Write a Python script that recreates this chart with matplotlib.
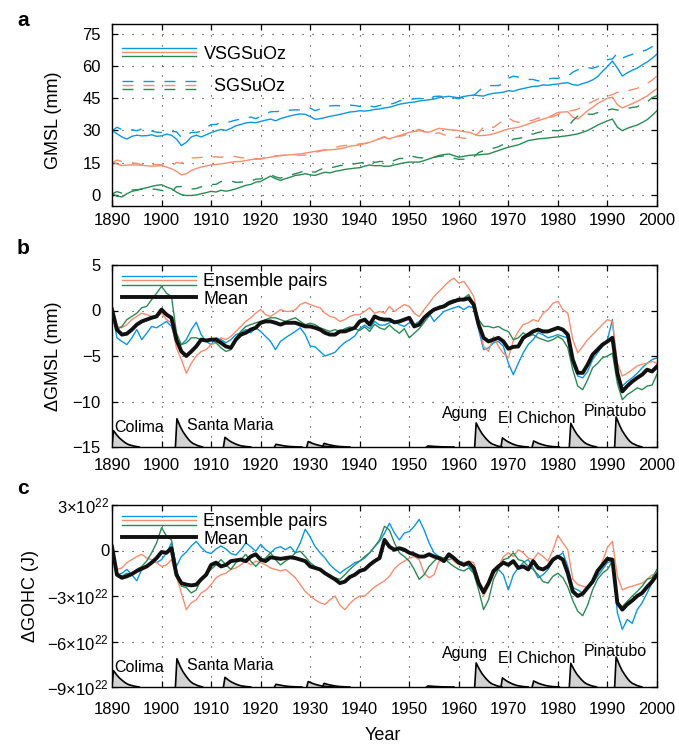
import numpy as np
import matplotlib
matplotlib.use("Agg")
import matplotlib.pyplot as plt
from matplotlib.lines import Line2D
from matplotlib.legend_handler import HandlerBase

plt.rcParams["font.family"] = ["Liberation Sans", "DejaVu Sans"]
plt.rcParams["mathtext.fontset"] = "custom"
plt.rcParams["mathtext.rm"] = "Liberation Sans"
plt.rcParams["mathtext.it"] = "Liberation Sans:italic"

YEARS = np.arange(1890, 2001)

# --- panel a: GMSL (mm), VSGSuOz runs (solid) ---
A_BLUE = [29.9, 28.5, 27.0, 26.0, 27.3, 27.8, 27.5, 27.6, 28.0, 27.3,
          27.5, 28.3, 27.8, 26.0, 23.0, 24.5, 27.0, 27.8, 27.0, 28.0,
          29.0, 29.8, 30.5, 30.0, 31.0, 32.2, 32.8, 33.5, 33.8, 33.6,
          34.2, 34.8, 35.3, 34.5, 35.5, 36.2, 36.8, 37.3, 37.7, 37.5,
          36.5, 35.2, 35.5, 36.0, 36.6, 37.0, 37.5, 38.0, 38.6, 38.8,
          39.2, 39.0, 39.3, 39.8, 40.0, 40.5, 40.8, 41.5, 42.2, 42.6,
          43.0, 43.2, 43.7, 44.0, 44.3, 44.6, 45.3, 45.6, 45.9, 45.5,
          45.2, 45.8, 46.2, 46.5, 46.2, 46.0, 46.8, 47.3, 47.5, 47.8,
          48.5, 48.2, 49.0, 49.5, 50.0, 50.5, 50.6, 51.2, 51.0, 51.4,
          51.6, 52.0, 52.2, 51.3, 51.0, 51.8, 52.5, 53.5, 55.0, 57.5,
          59.7, 62.3, 59.0, 55.3, 56.8, 58.0, 59.0, 60.5, 61.8, 63.5,
          65.5]
A_SALMON = [15.3, 14.5, 13.7, 13.9, 14.0, 14.0, 13.8, 13.6, 13.4, 13.5,
            13.7, 13.0, 12.2, 11.0, 9.4, 9.9, 11.4, 12.3, 13.0, 13.5,
            14.0, 14.2, 14.5, 14.8, 15.3, 15.5, 15.6, 16.0, 16.5, 16.6,
            16.8, 17.2, 17.6, 18.0, 18.4, 18.5, 18.7, 18.9, 19.1, 19.5,
            19.9, 20.3, 20.7, 20.8, 21.0, 21.2, 21.5, 22.0, 22.7, 23.0,
            23.3, 23.9, 24.5, 25.3, 26.1, 26.9, 26.1, 26.9, 27.6, 28.4,
            29.2, 29.5, 29.9, 29.5, 29.2, 30.1, 31.0, 30.7, 30.4, 30.2,
            29.9, 29.5, 29.2, 28.4, 27.6, 27.7, 27.9, 28.5, 29.2, 30.0,
            30.7, 31.1, 31.5, 32.2, 33.0, 33.8, 34.6, 35.3, 36.1, 37.2,
            38.4, 38.6, 38.7, 36.1, 35.3, 37.2, 39.2, 40.8, 42.5, 43.8,
            45.0, 45.5, 42.0, 40.5, 41.5, 42.5, 43.5, 44.8, 46.0, 47.8,
            49.5]
A_GREEN = [0.6, -0.5, -0.9, 0.6, 1.7, 2.2, 2.9, 3.4, 4.0, 4.5,
           4.8, 3.7, 2.9, 1.4, 0.2, -0.2, -0.2, 0.0, 0.6, 1.1,
           1.7, 1.4, 2.2, 1.8, 2.2, 2.9, 3.7, 4.5, 4.9, 6.0,
           6.3, 7.6, 8.8, 7.6, 6.8, 7.6, 8.3, 9.1, 9.4, 9.9,
           9.4, 9.1, 9.9, 10.6, 10.3, 11.0, 11.4, 11.9, 12.2, 12.5,
           12.7, 13.4, 14.0, 13.6, 13.7, 13.4, 13.4, 14.0, 14.5, 15.0,
           15.3, 15.3, 15.3, 16.0, 16.8, 17.6, 18.4, 18.8, 19.1, 18.3,
           17.6, 18.0, 18.4, 18.6, 18.7, 18.9, 19.1, 19.9, 20.7, 21.5,
           22.2, 22.8, 23.3, 24.3, 25.3, 25.7, 26.1, 26.3, 26.5, 26.8,
           27.0, 27.3, 27.6, 28.0, 28.4, 29.2, 30.0, 31.2, 32.5, 33.5,
           34.5, 35.3, 31.5, 29.9, 31.0, 31.8, 32.5, 33.7, 35.0, 37.0,
           39.2]

# --- panel b: delta GMSL (mm) = VSGSuOz - SGSuOz for each pair ---
B_BLUE = [0.1, -3.0, -3.4, -3.75, -3.0, -2.1, -3.2, -2.5, -1.75, -1.9,
          -1.55, -1.2, -1.75, -3.4, -3.75, -3.2, -2.1, -1.3, -2.65, -3.4,
          -3.75, -3.0, -3.2, -3.55, -3.2, -2.65, -2.45, -2.1, -2.45, -1.9,
          -2.3, -2.85, -3.4, -4.3, -3.4, -3.0, -2.65, -2.3, -1.9, -2.65,
          -3.9, -4.0, -4.5, -5.0, -4.8, -4.6, -4.0, -3.5, -3.2, -2.8,
          -2.0, -1.6, -2.0, -1.2, -1.6, -1.6, -1.35, -1.2, -1.55, -1.75,
          -1.35, -1.55, -1.2, -0.65, -0.3, -1.2, -0.65, -0.1, 0.1, 0.3,
          0.45, 0.1, 0.45, 0.3, -2.1, -4.3, -4.1, -3.55, -3.4, -3.95,
          -5.8, -7.05, -5.8, -4.65, -3.75, -3.2, -2.45, -2.65, -3.0, -2.85,
          -2.65, -2.85, -3.0, -5.8, -7.2, -7.4, -6.7, -5.4, -4.65, -3.95,
          -3.2, -1.0, -6.9, -8.3, -7.8, -7.4, -6.9, -6.3, -5.8, -5.4,
          -5.2]
B_SALMON = [0.45, -1.75, -1.9, -1.55, -1.0, -0.65, -0.3, -0.45, -0.65, -0.65,
            -0.3, -1.0, -1.35, -4.1, -5.4, -6.9, -5.8, -5.0, -4.5, -4.3,
            -3.75, -3.55, -3.0, -3.2, -2.85, -2.3, -1.75, -1.2, -0.8, -0.3,
            0.1, -0.45, -0.65, -0.3, 0.1, -0.1, -0.1, 0.1, 0.65, 0.9,
            0.65, 0.45, 0.3, -0.3, -0.65, -0.8, -1.2, -1.0, -0.65, -0.45,
            -0.45, -0.1, 0.3, -0.3, -0.1, -0.3, 0.45, -0.1, 0.3, 0.65,
            0.45, -0.3, -0.65, 0.1, 0.8, 1.55, 2.1, 2.65, 3.2, 3.55,
            3.0, 3.2, 2.45, 1.55, -1.35, -3.95, -4.5, -2.85, -3.95, -4.7,
            -5.2, -3.3, -2.3, -1.55, -1.35, -1.0, -1.2, -0.3, 0.1, 0.8,
            1.0, 0.1, -0.3, -3.2, -4.65, -3.95, -3.2, -2.65, -2.1, -1.55,
            -1.0, -1.2, -5.8, -7.2, -6.9, -6.5, -6.1, -5.9, -5.8, -5.6,
            -5.8]
B_GREEN = [0.1, -2.1, -1.75, -1.0, -0.65, -0.3, 0.3, 0.45, 1.2, 1.9,
           2.65, 1.9, 1.55, -2.45, -3.75, -3.55, -3.0, -3.0, -3.2, -3.4,
           -3.2, -3.55, -4.1, -4.5, -4.3, -3.0, -2.3, -1.75, -1.55, -1.35,
           -1.2, -1.0, -0.8, -0.8, -1.0, -1.2, -1.0, -0.8, -1.2, -1.55,
           -1.4, -1.55, -1.9, -2.1, -2.3, -2.1, -2.3, -2.0, -1.8, -2.0,
           -2.2, -1.8, -2.3, -1.5, -1.9, -2.1, -1.6, -2.1, -2.5, -2.0,
           -3.0, -2.5, -2.0, -1.3, -0.6, 0.1, 0.45, 0.6, 1.0, 1.2,
           1.0, 1.35, 1.75, 0.8, -1.0, -1.75, -1.75, -1.9, -1.75, -2.1,
           -2.3, -3.2, -3.0, -2.45, -2.85, -2.65, -3.0, -3.2, -3.4, -3.2,
           -2.85, -3.2, -4.1, -6.5, -8.3, -8.7, -7.6, -6.3, -5.8, -5.2,
           -5.0, -4.7, -8.0, -9.8, -9.25, -8.9, -8.5, -8.7, -8.3, -8.2,
           -7.0]
B_MEAN = [0.1, -2.1, -2.65, -2.55, -2.1, -1.55, -1.2, -1.0, -0.8, -0.65,
          0.1, -0.45, -0.8, -3.2, -4.5, -5.0, -4.5, -3.95, -3.2, -3.3,
          -3.2, -3.2, -3.55, -3.95, -4.1, -3.2, -2.65, -2.45, -2.1, -1.9,
          -1.35, -1.2, -1.2, -1.35, -1.55, -1.35, -1.35, -1.35, -1.55, -1.75,
          -1.75, -1.9, -2.1, -2.45, -2.65, -2.65, -2.3, -2.3, -2.1, -1.9,
          -1.2, -1.0, -1.55, -0.65, -0.9, -1.0, -1.0, -1.3, -1.2, -1.0,
          -0.8, -1.75, -1.55, -0.8, -0.3, 0.1, 0.3, 0.45, 0.8, 1.0,
          1.2, 1.2, 1.35, 0.65, -1.55, -3.0, -3.4, -3.2, -3.0, -3.4,
          -4.2, -4.0, -3.95, -3.0, -2.65, -2.3, -2.1, -2.3, -2.3, -2.1,
          -1.9, -2.1, -2.65, -5.4, -6.85, -6.85, -5.95, -4.85, -4.3, -3.75,
          -3.4, -3.0, -6.85, -8.9, -8.3, -7.8, -7.4, -7.05, -6.5, -6.7,
          -6.15]

# --- panel c: delta GOHC, in units of 1e22 J ---
C_BLUE = [0.05, -1.6, -1.5, -1.25, -1.6, -2.0, -1.25, -1.05, -0.7, -0.8,
          -0.6, -0.15, 0.5, -1.05, -0.4, -0.1, 0.3, 0.6, 0.2, -0.1,
          -0.2, 0.1, 0.3, 0.1, -0.2, -0.3, 0.05, 0.5, 0.25, -0.05,
          0.4, 0.05, -0.15, 0.15, 0.25, 0.05, 0.25, -0.15, 0.5, 1.4,
          0.9, 0.25, -0.15, -0.5, -0.95, -1.25, -1.5, -1.25, -1.05, -0.8,
          -0.7, -0.5, -0.15, 0.25, 0.6, 1.15, 1.8, 1.15, 0.7, 1.15,
          1.25, 1.6, 2.05, 1.35, 0.5, -0.15, -0.4, -0.7, -0.6, -0.5,
          -0.7, -0.8, -1.05, -1.35, -2.15, -2.7, -2.15, -1.5, -1.25, -1.6,
          -2.6, -1.6, -1.15, -0.8, -0.6, -1.15, -1.8, -1.6, -1.25, -0.7,
          -0.4, -0.15, -1.05, -2.45, -2.6, -2.8, -2.45, -2.15, -1.7, -1.25,
          -0.8, -0.7, -4.1, -5.2, -4.55, -4.8, -3.9, -3.45, -2.8, -2.15,
          -1.7]
C_SALMON = [0.4, -1.25, -1.15, -0.8, -0.6, -0.4, -0.25, -0.5, -0.6, -0.8,
            -1.05, -0.95, -0.6, -1.7, -2.8, -3.9, -3.45, -3.25, -2.8, -2.6,
            -2.25, -1.8, -1.6, -1.5, -1.25, -1.15, -0.95, -0.7, -0.95, -0.7,
            -0.8, -0.95, -1.15, -1.25, -1.35, -1.25, -1.5, -1.8, -2.25, -2.7,
            -3.0, -3.25, -3.45, -3.55, -3.25, -3.0, -3.6, -3.9, -3.5, -3.2,
            -3.0, -3.0, -2.7, -2.4, -2.2, -2.0, -1.7, -1.2, -0.9, -0.7,
            -0.5, -0.4, -0.6, -1.5, -1.8, -1.6, -0.7, -0.5, -0.4, -0.7,
            -0.95, -0.8, -0.7, -0.8, -1.9, -3.0, -2.35, -1.6, -1.05, -0.4,
            -0.15, -0.4, 0.05, -0.15, -0.5, -0.6, -0.15, -0.4, -0.7, 0.05,
            1.0, 0.5, 0.05, -1.9, -2.25, -2.35, -2.45, -2.05, -1.5, -0.7,
            0.2, 0.6, -1.7, -2.6, -2.45, -2.35, -2.25, -2.15, -1.9, -1.6,
            -1.7]
C_GREEN = [0.05, -1.5, -1.7, -1.5, -1.6, -1.25, -1.05, -0.7, -0.15, 0.5,
           1.5, 0.95, 0.7, -1.25, -2.35, -2.45, -2.8, -2.6, -1.9, -1.5,
           -1.25, -0.95, -0.6, -0.95, -1.25, -0.8, -0.6, -0.25, -0.7, -1.05,
           -0.7, -0.5, -0.15, -0.6, -0.95, -0.7, -0.5, -0.15, -0.05, -0.4,
           -0.8, -1.05, -1.25, -1.5, -1.7, -1.8, -1.9, -1.6, -1.25, -0.95,
           -0.7, -0.4, -0.15, 0.25, 0.7, 1.6, 1.35, 0.5, -0.15, -0.4,
           -0.7, -1.25, -1.9, -1.6, -1.05, -0.7, -0.4, -0.5, -0.8, -1.05,
           -1.25, -1.35, -1.15, -1.5, -2.6, -3.9, -3.25, -1.9, -1.25, -0.6,
           -0.5, -0.15, -0.6, -0.7, -1.05, -1.25, -1.6, -2.05, -2.15, -1.7,
           -1.5, -1.8, -2.4, -3.3, -4.0, -4.3, -3.6, -2.6, -1.9, -1.5,
           -1.25, -0.7, -3.45, -3.7, -3.35, -3.0, -2.7, -2.35, -1.9, -1.8,
           -1.25]
C_MEAN = [0.25, -1.6, -1.8, -1.7, -1.55, -1.35, -1.2, -1.05, -0.8, -0.5,
          -0.1, -0.15, 0.15, -1.6, -2.15, -2.25, -2.3, -2.25, -1.9, -1.6,
          -0.95, -0.8, -1.05, -0.95, -0.7, -0.65, -0.6, -0.7, -0.4, -0.25,
          -0.6, -0.7, -0.45, -0.5, -0.55, -0.5, -0.45, -0.5, -0.6, -0.7,
          -1.05, -1.15, -1.25, -1.5, -1.7, -1.9, -2.15, -2.05, -1.75, -1.6,
          -1.35, -1.25, -0.95, -0.7, -0.5, 0.7, 0.25, 0.05, 0.15, 0.05,
          -0.15, -0.25, -0.4, -0.4, -0.25, -0.4, -0.5, -0.7, -0.25, -0.5,
          -0.8, -0.95, -0.8, -1.15, -2.15, -2.75, -2.15, -1.35, -1.05, -0.8,
          -0.95, -0.7, -1.15, -1.05, -1.25, -0.7, -1.15, -1.25, -1.05, -0.6,
          -0.4, -0.6, -1.5, -2.7, -3.0, -2.85, -2.45, -2.05, -1.35, -0.95,
          -0.55, -0.6, -3.45, -3.9, -3.55, -3.3, -3.0, -2.8, -2.4, -2.05,
          -1.6]
OHC_UNIT = 1e22

# volcanic aerosol pulses (relative height on the bottom of panels b, c)
VOLC_YEAR = [1890.0, 1902.8, 1912.5, 1922.8, 1929.3, 1932.5, 1953.5,
             1963.2, 1968.5, 1974.8, 1982.3, 1991.45]
VOLC_PEAK = [0.09, 0.155, 0.053, 0.015, 0.03, 0.02, 0.006,
             0.132, 0.05, 0.033, 0.13, 0.165]
PULSE_DT = [0.0, 0.3, 0.6, 1.0, 1.5, 2.0, 2.5, 3.0, 3.5, 4.5, 5.5]
PULSE_SHAPE = [0.0, 1.0, 0.88, 0.72, 0.55, 0.42, 0.30, 0.20, 0.13, 0.05, 0.0]
VOLC_NAMES = ["Colima", "Santa Maria", "Agung", "El Chichon", "Pinatubo"]
VOLC_LABEL_X = [1890.4, 1905.1, 1961.2, 1975.8, 1991.5]
VOLC_LABEL_Y = [0.108, 0.118, 0.184, 0.159, 0.195]
VOLC_LABEL_HA = ["left", "left", "center", "center", "center"]

BLUE = "#0c97de"
SALMON = "#f68e70"
GREEN = "#2b8a54"
DASH = [7.9, 7.2]


class StackedLines(HandlerBase):
    """legend handle: several lines stacked on top of each other"""

    def __init__(self, gap=3.2):
        super().__init__()
        self.gap = gap

    def create_artists(self, legend, orig_handle, xdescent, ydescent,
                       width, height, fontsize, trans):
        n = len(orig_handle)
        out = []
        for i, h in enumerate(orig_handle):
            y = (height - ydescent) / 2 + ((n - 1) / 2 - i) * self.gap
            ln = Line2D([-xdescent, width - xdescent], [y, y])
            ln.update_from(h)
            ln.set_transform(trans)
            out.append(ln)
        return out


def style(ax, xpad=5, ypad=8):
    ax.set_xlim(1890, 2000)
    ax.set_xticks(range(1890, 2001, 10))
    ax.tick_params(direction="in", top=True, right=True, length=4,
                   width=0.9, labelsize=12)
    ax.tick_params(axis="x", pad=xpad)
    ax.tick_params(axis="y", pad=ypad)
    ax.grid(True, color="0.15", linestyle=(0, (1, 8)), linewidth=0.8)
    ax.set_axisbelow(True)
    for s in ax.spines.values():
        s.set_linewidth(1.0)


def volcanoes(ax):
    trans = ax.get_xaxis_transform()
    for yr, pk in zip(VOLC_YEAR, VOLC_PEAK):
        xs = yr + np.array(PULSE_DT)
        ys = pk * np.array(PULSE_SHAPE)
        ax.fill(xs, ys, transform=trans, facecolor="#d3d3d3",
                edgecolor="none", zorder=2)
        ax.plot(xs, ys, transform=trans, color="k", lw=1.2, zorder=2.1)
    for name, x, y, ha in zip(VOLC_NAMES, VOLC_LABEL_X, VOLC_LABEL_Y,
                              VOLC_LABEL_HA):
        ax.text(x, y, name, transform=trans, ha=ha, va="center",
                fontsize=11.5, zorder=4)


def delta_panel(ax, blue, salmon, green, mean, scale=1.0):
    pair = []
    for vals, col in ((blue, BLUE), (salmon, SALMON), (green, GREEN)):
        ln, = ax.plot(YEARS, np.array(vals) * scale, color=col, lw=1.0,
                      zorder=2.5)
        pair.append(ln)
    mln, = ax.plot(YEARS, np.array(mean) * scale, color="#111111", lw=2.8,
                   zorder=3)
    volcanoes(ax)
    ax.legend([tuple(pair), mln], ["Ensemble pairs", "Mean"],
              handler_map={tuple: StackedLines(3.2)}, loc="upper left",
              bbox_to_anchor=(0.005, 0.993), borderaxespad=0,
              frameon=False, handlelength=4.1, handletextpad=0.4,
              labelspacing=0.01, fontsize=13)


fig = plt.figure(figsize=(6.79, 7.44), dpi=100)
L, W, H = 112 / 679, 545 / 679, 182 / 744
ax_a = fig.add_axes([L, 1 - 206 / 744, W, H])
ax_b = fig.add_axes([L, 1 - 447 / 744, W, H])
ax_c = fig.add_axes([L, 1 - 687 / 744, W, H])

# panel a
solid, dashed = [], []
for a_vals, b_vals, col in ((A_BLUE, B_BLUE, BLUE), (A_SALMON, B_SALMON, SALMON),
                            (A_GREEN, B_GREEN, GREEN)):
    s, = ax_a.plot(YEARS, a_vals, color=col, lw=1.0, zorder=2.5)
    # SGSuOz run = VSGSuOz run minus the pair difference shown in panel b
    d, = ax_a.plot(YEARS, np.array(a_vals) - np.array(b_vals), color=col,
                   lw=1.0, zorder=2.5)
    d.set_dashes(DASH)
    solid.append(s)
    dashed.append(d)
style(ax_a, xpad=5)
ax_a.set_ylim(-5.1, 79.5)
ax_a.set_yticks([0, 15, 30, 45, 60, 75])
ax_a.set_ylabel("GMSL (mm)", fontsize=13)
ax_a.yaxis.set_label_coords(-0.092, 0.47)
ax_a.legend([tuple(solid), tuple(dashed)], ["VSGSuOz", "  SGSuOz"],
            handler_map={tuple: StackedLines(3.0)}, loc="upper left",
            bbox_to_anchor=(0.005, 0.921), borderaxespad=0, frameon=False,
            handlelength=4.1, handletextpad=0.45, labelspacing=0.86,
            fontsize=13)

# panel b
delta_panel(ax_b, B_BLUE, B_SALMON, B_GREEN, B_MEAN)
style(ax_b, xpad=8)
ax_b.set_ylim(-15, 5)
ax_b.set_yticks([-15, -10, -5, 0, 5])
ax_b.set_ylabel("\u0394GMSL (mm)", fontsize=13)
ax_b.yaxis.set_label_coords(-0.092, 0.5)

# panel c
delta_panel(ax_c, C_BLUE, C_SALMON, C_GREEN, C_MEAN, scale=OHC_UNIT)
style(ax_c, xpad=11, ypad=2)
ax_c.set_ylim(-9 * OHC_UNIT, 3 * OHC_UNIT)
ax_c.set_yticks([-9 * OHC_UNIT, -6 * OHC_UNIT, -3 * OHC_UNIT, 0, 3 * OHC_UNIT])
ax_c.set_yticklabels(["\u22129\u00d710$^{22}$", "\u22126\u00d710$^{22}$",
                      "\u22123\u00d710$^{22}$", "0", "3\u00d710$^{22}$"])
ax_c.set_ylabel("\u0394GOHC (J)", fontsize=13)
ax_c.yaxis.set_label_coords(-0.134, 0.5)
ax_c.set_xlabel("Year", fontsize=13)
ax_c.xaxis.set_label_coords(0.497, -0.218)

for lab, ypix in (("a", 20), ("b", 249), ("c", 489)):
    fig.text(17 / 679, 1 - ypix / 744, lab, fontsize=15, fontweight="bold",
             ha="left", va="center")

fig.savefig("out.png", dpi=100)
